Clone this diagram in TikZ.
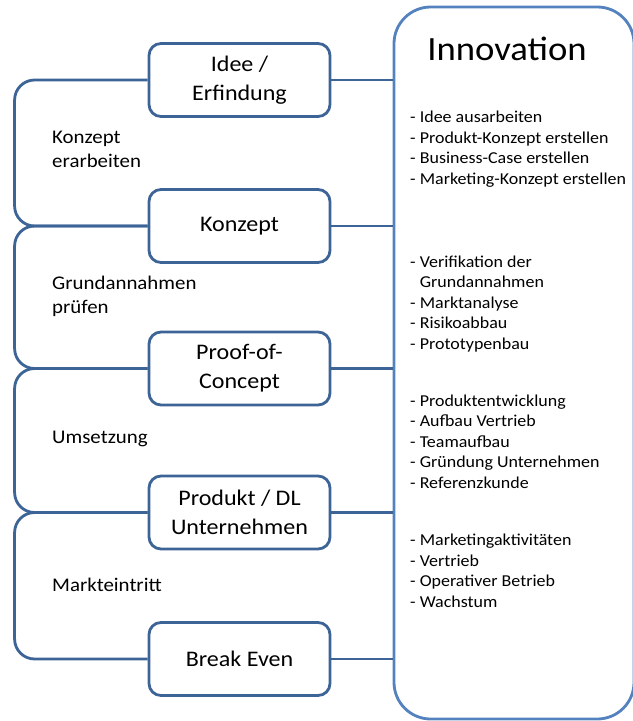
\documentclass[tikz,border=0pt]{standalone}
\usepackage{fontspec}
\setmainfont{Carlito}[FakeStretch=1.08]
\usetikzlibrary{positioning}
\definecolor{frameblue}{RGB}{61,100,151}
\definecolor{innoblue}{RGB}{84,130,190}

\begin{document}
\begin{tikzpicture}
    [%%%%%%%%%%%%%%%%%%%%%%%%%%%%%%
        x=0.3mm, y=-0.3mm,
        stage/.style={rectangle, rounded corners=3.6mm, draw=frameblue, line width=2.4pt, fill=white,
            minimum width=54.3mm, minimum height=21.9mm, align=center, inner sep=0pt,
            font=\fontsize{19}{24.7}\selectfont},
        link/.style={draw=frameblue, line width=2.4pt},
        phase/.style={anchor=base west, align=left, inner sep=0pt, font=\fontsize{16.5}{20.4}\selectfont},
        task/.style={anchor=base west, align=left, inner sep=0pt, font=\fontsize{14.2}{17.4}\selectfont},
        innobox/.style={rectangle, rounded corners=11mm, draw=innoblue, line width=2.4pt,
            minimum width=72mm, minimum height=213.6mm}
    ]%%%%%%%%%%%%%%%%%%%%%%%%%%%%%%

\useasboundingbox (0,0) rectangle (632,721);

\node[innobox] (innov) at (514,363) {};
\node[anchor=base, font=\fontsize{29}{35}\selectfont] (title) at (507,60) {Innovation};

\foreach \n/\y/\t in {idee/80/{Idee /\\Erfindung}, konzept/226/Konzept, poc/368.5/{Proof-of-\\Concept},
    produkt/512.5/{Produkt / DL\\Unternehmen}, breakeven/659/Break Even}{
    \node[stage] (\n) at (239.5,\y) {\t};
    \draw[link] (\n.east) -- (\n.east -| innov.west);
}

\foreach \a/\b in {idee/konzept, konzept/poc, poc/produkt, produkt/breakeven}
    \draw[link, rounded corners=6mm] (\a.west) -- ++(-133,0) |- (\b.west);

% base = baseline of the last line
\node[phase] (p1) at (52,167) {Konzept\\erarbeiten};
\node[phase] (p2) at (52,313) {Grundannahmen\\prüfen};
\node[phase] (p3) at (52,443) {Umsetzung};
\node[phase] (p4) at (52,591) {Markteintritt};

\node[task] (t1) at (410,184) {- Idee ausarbeiten\\- Produkt-Konzept erstellen\\- Business-Case erstellen\\- Marketing-Konzept erstellen};
\node[task] (t2) at (410,349) {- Verifikation der\\\hphantom{- }Grundannahmen\\- Marktanalyse\\- Risikoabbau\\- Prototypenbau};
\node[task] (t3) at (410,488) {- Produktentwicklung\\- Aufbau Vertrieb\\- Teamaufbau\\- Gründung Unternehmen\\- Referenzkunde};
\node[task] (t4) at (410,607) {- Marketingaktivitäten\\- Vertrieb\\- Operativer Betrieb\\- Wachstum};

\end{tikzpicture}
\end{document}
